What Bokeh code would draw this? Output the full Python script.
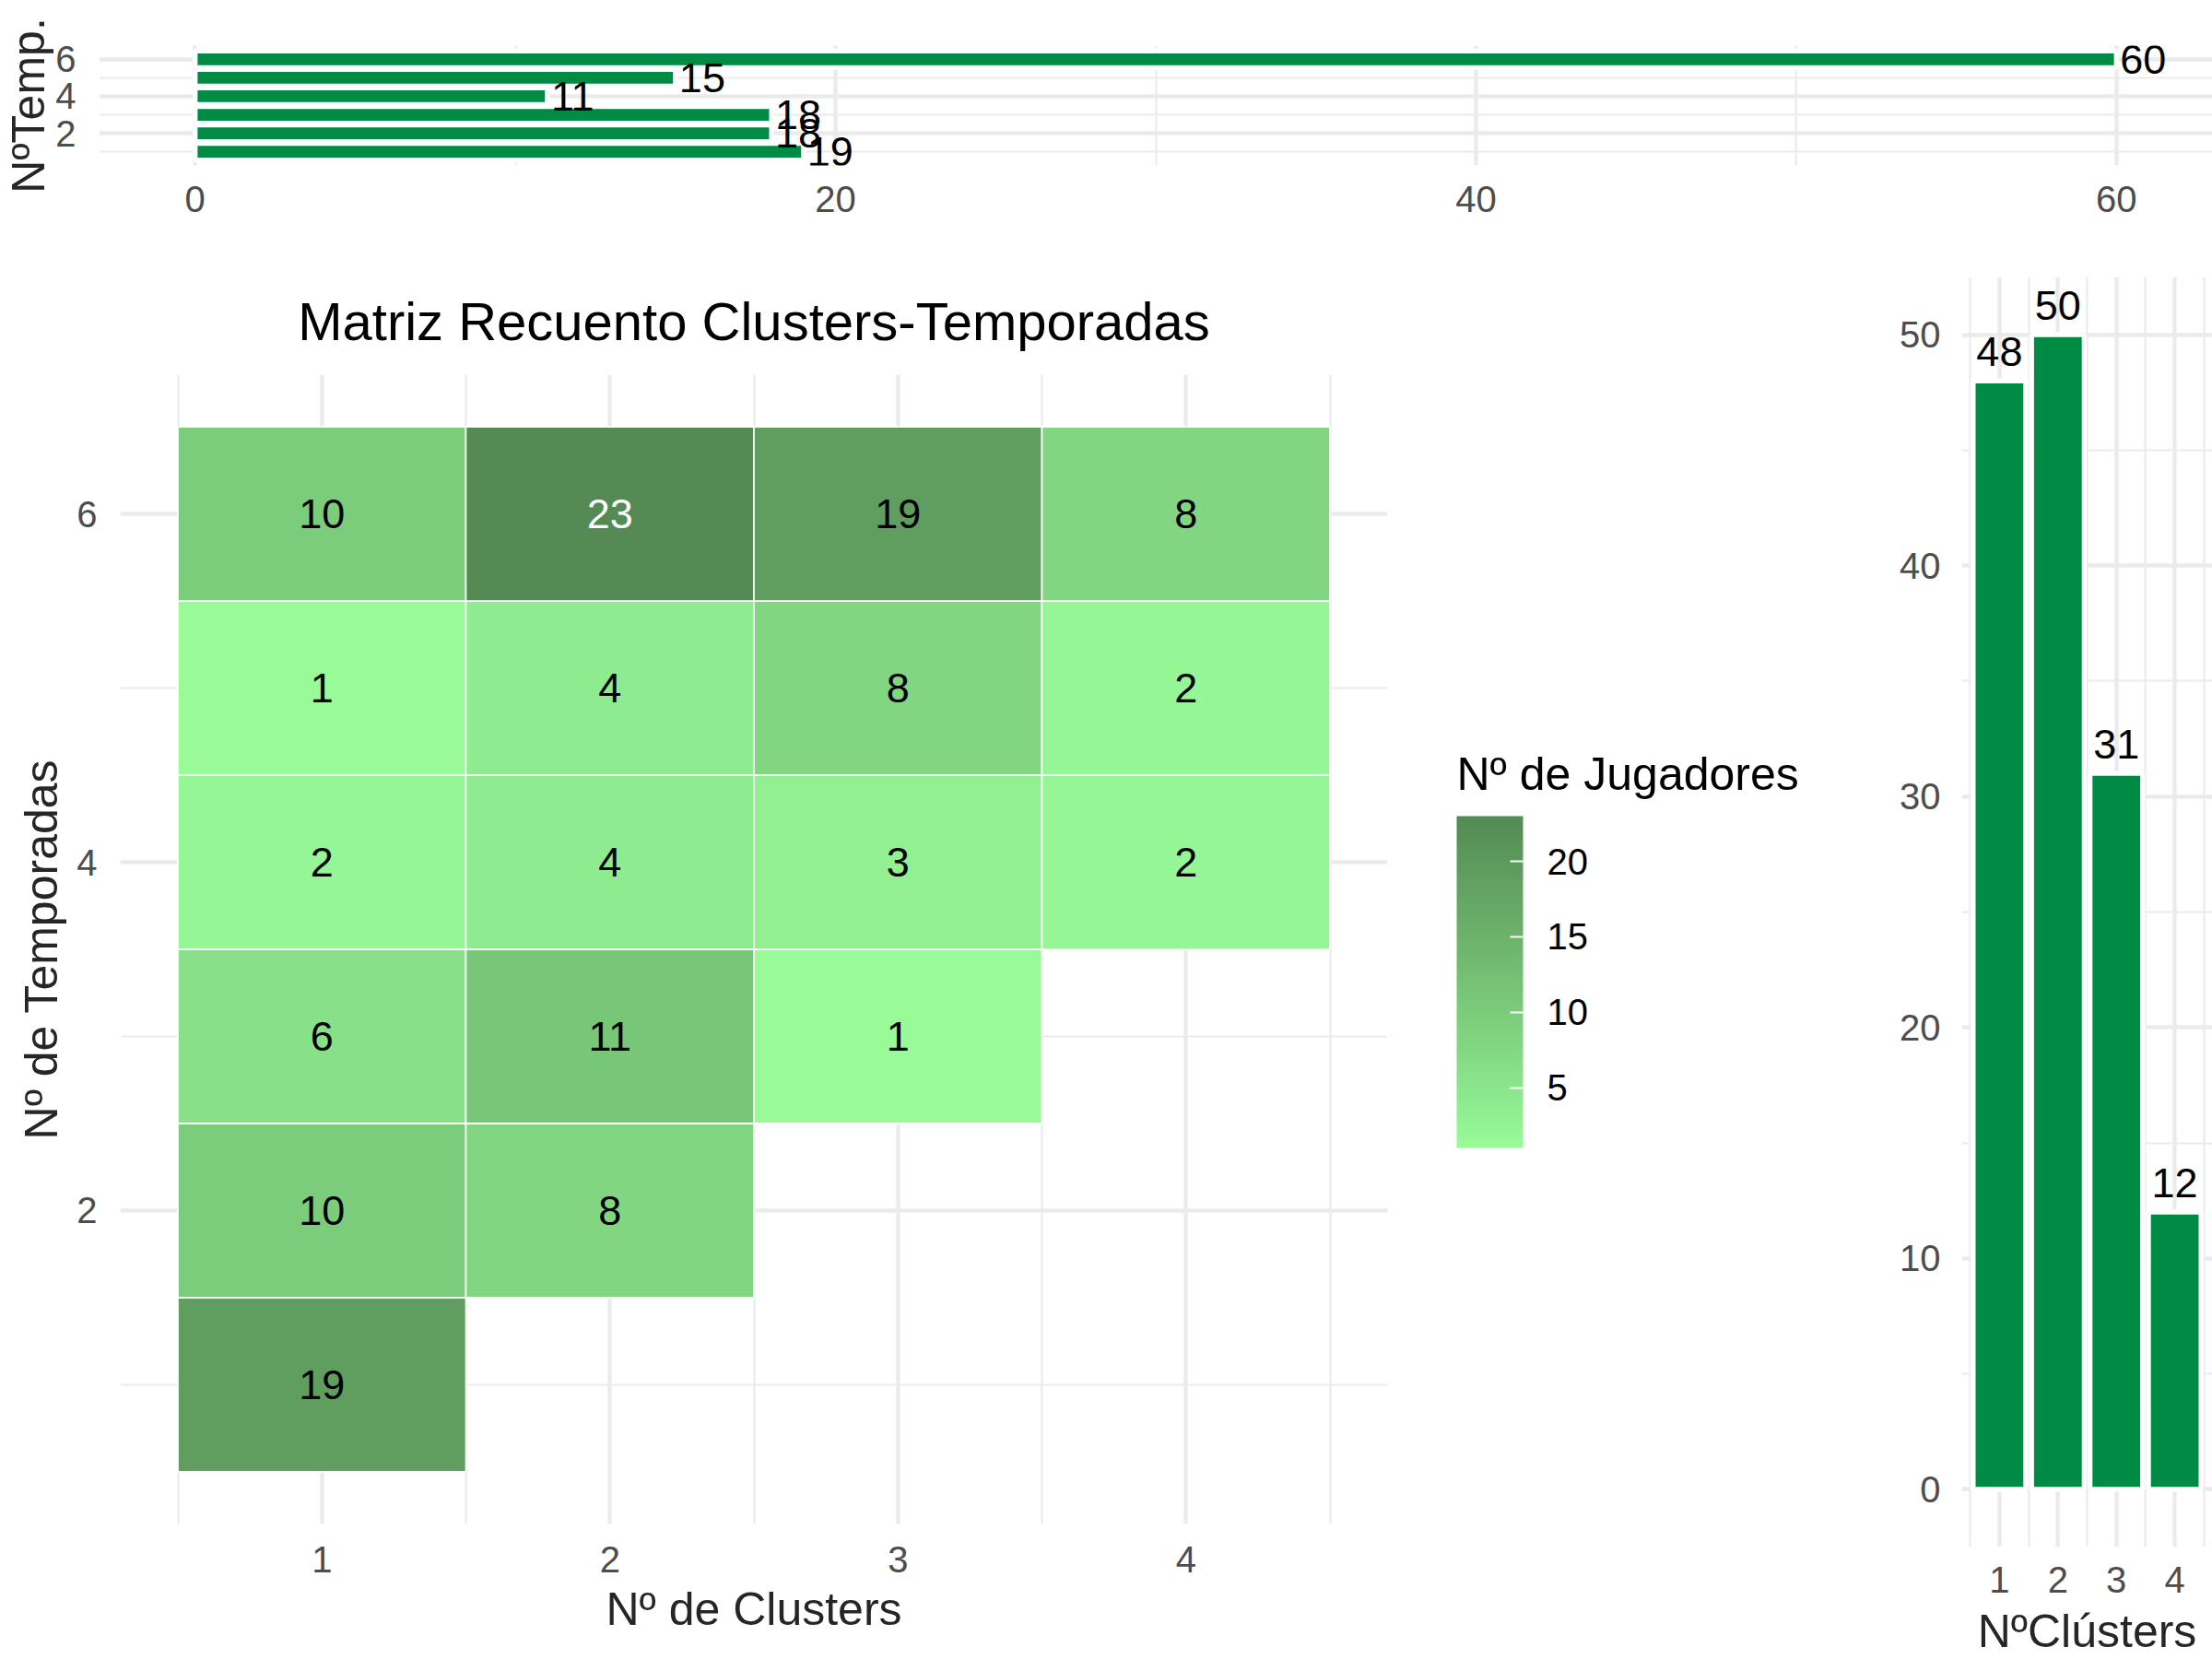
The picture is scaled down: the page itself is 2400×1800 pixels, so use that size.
from bokeh.plotting import figure
from bokeh.models import ColumnDataSource, FixedTicker, LinearColorMapper, ColorBar, Range1d
from bokeh.layouts import column, row
from bokeh.embed import file_html
from bokeh.resources import INLINE
from bokeh.core.properties import value
from bokeh.transform import transform

FONT = "Liberation Sans"

# ---------------- data ----------------
clusters = [1, 2, 3, 4]
temporadas = [1, 2, 3, 4, 5, 6]
recuento_temp1 = [19, None, None, None]
recuento_temp2 = [10, 8, None, None]
recuento_temp3 = [6, 11, 1, None]
recuento_temp4 = [2, 4, 3, 2]
recuento_temp5 = [1, 4, 8, 2]
recuento_temp6 = [10, 23, 19, 8]
total_por_temporada = [19, 18, 18, 11, 15, 60]
total_por_cluster = [48, 50, 31, 12]

ticks_temporadas = [2, 4, 6]
ticks_top_x = [0, 20, 40, 60]
ticks_clusters = [1, 2, 3, 4]
ticks_right_y = [0, 10, 20, 30, 40, 50]
ticks_leyenda = [5, 10, 15, 20]

color_bajo = "#98FB98"   # palegreen
color_alto = "#548B54"   # palegreen4
color_barra = "#008B45"
GRID = "#EBEBEB"

TICK_SIZE = "40px"
AXIS_TITLE_SIZE = "50px"
VALUE_SIZE = "45px"


# ---------------- Lab gradient (as ggplot) ----------------
def _to_lab(hexc):
    r, g, b = [int(hexc[i:i + 2], 16) / 255 for i in (1, 3, 5)]
    def lin(c):
        return c / 12.92 if c <= 0.04045 else ((c + 0.055) / 1.055) ** 2.4
    r, g, b = lin(r), lin(g), lin(b)
    X = 0.4124564 * r + 0.3575761 * g + 0.1804375 * b
    Y = 0.2126729 * r + 0.7151522 * g + 0.0721750 * b
    Z = 0.0193339 * r + 0.1191920 * g + 0.9503041 * b
    def f(t):
        return t ** (1 / 3) if t > 216 / 24389 else (24389 / 27 * t + 16) / 116
    fx, fy, fz = f(X / 0.95047), f(Y), f(Z / 1.08883)
    return 116 * fy - 16, 500 * (fx - fy), 200 * (fy - fz)


def _to_hex(L, a, b):
    fy = (L + 16) / 116
    fx = fy + a / 500
    fz = fy - b / 200
    def finv(t):
        return t ** 3 if t ** 3 > 216 / 24389 else (116 * t - 16) / (24389 / 27)
    X, Y, Z = finv(fx) * 0.95047, finv(fy), finv(fz) * 1.08883
    r = 3.2404542 * X - 1.5371385 * Y - 0.4985314 * Z
    g = -0.9692660 * X + 1.8760108 * Y + 0.0415560 * Z
    bb = 0.0556434 * X - 0.2040259 * Y + 1.0572252 * Z
    def gam(c):
        c = max(0.0, min(1.0, c))
        return 12.92 * c if c <= 0.0031308 else 1.055 * c ** (1 / 2.4) - 0.055
    return "#%02x%02x%02x" % tuple(int(round(gam(c) * 255)) for c in (r, g, bb))


lab0, lab1 = _to_lab(color_bajo), _to_lab(color_alto)
palette = [_to_hex(*[lab0[k] + (lab1[k] - lab0[k]) * i / 255 for k in range(3)]) for i in range(256)]

# ---------------- layout constants (page pixels) ----------------
W, H = 2400, 1800
TOP_H = 260
HEAT_W = 1560
LEG_W = 470
RIGHT_W = W - HEAT_W - LEG_W
BOT_H = H - TOP_H


def base_fig(title=None, **kw):
    p = figure(output_backend="svg", toolbar_location=None, title=title, **kw)
    p.background_fill_color = "white"
    p.border_fill_color = "white"
    p.outline_line_color = None
    try:
        p.frame_align = False
    except Exception:
        pass
    return p


def style_axis(ax, ticks, standoff, label_standoff=5):
    ax.ticker = FixedTicker(ticks=ticks)
    ax.axis_line_color = None
    ax.major_tick_line_color = None
    ax.minor_tick_line_color = None
    ax.major_tick_in = 0
    ax.major_tick_out = 0
    ax.minor_tick_in = 0
    ax.minor_tick_out = 0
    ax.major_label_text_font = FONT
    ax.major_label_text_font_size = TICK_SIZE
    ax.major_label_text_color = "#4D4D4D"
    ax.major_label_standoff = standoff
    ax.axis_label_text_font = FONT
    ax.axis_label_text_font_size = AXIS_TITLE_SIZE
    ax.axis_label_text_font_style = "normal"
    ax.axis_label_text_color = "#262626"
    ax.axis_label_standoff = label_standoff


def style_grid(g, major, minor):
    g.ticker = FixedTicker(ticks=major, minor_ticks=minor)
    g.grid_line_color = GRID
    g.grid_line_width = 4.4
    g.minor_grid_line_color = GRID
    g.minor_grid_line_width = 2.2


def style_title(t, size, standoff, align):
    t.align = align
    t.text_font = FONT
    t.text_font_size = size
    t.text_font_style = "normal"
    t.text_color = "black"
    t.standoff = standoff


# ---------------- top bar chart ----------------
top = base_fig(width=W, height=TOP_H, x_range=Range1d(-3, 63), y_range=Range1d(0.255, 6.745),
               min_border_left=105, min_border_right=0, min_border_top=49, min_border_bottom=TOP_H - 179)
top.hbar(y=temporadas, left=0, right=total_por_temporada, height=0.9,
         fill_color=color_barra, line_color="white", line_width=5.3)
top.text(x=total_por_temporada, y=temporadas, text=[str(v) for v in total_por_temporada],
         x_offset=4, y_offset=0, text_align="left", text_baseline="alphabetic",
         text_font=value(FONT), text_font_size=value(VALUE_SIZE), text_color="black")
style_axis(top.xaxis[0], ticks_top_x, 22)
style_axis(top.yaxis[0], ticks_temporadas, 25, -2)
top.yaxis[0].axis_label = "NºTemp."
style_grid(top.xgrid[0], ticks_top_x, [10, 30, 50])
style_grid(top.ygrid[0], ticks_temporadas, [1, 3, 5])

# ---------------- heatmap ----------------
hx, hy, hn = [], [], []
for t, fila in zip(temporadas, [recuento_temp1, recuento_temp2, recuento_temp3,
                                recuento_temp4, recuento_temp5, recuento_temp6]):
    for c, n in zip(clusters, fila):
        if n is not None:
            hx.append(c)
            hy.append(t)
            hn.append(n)
src = ColumnDataSource(dict(x=hx, y=hy, n=hn, lab=[str(v) for v in hn],
                            tc=["white" if v > 20 else "black" for v in hn]))
mapper = LinearColorMapper(palette=palette, low=min(hn), high=max(hn))

HF_L, HF_R, HF_T, HF_B = 130, 1505, 406 - TOP_H, 1653 - TOP_H   # frame box inside heat figure
heat = base_fig(title="Matriz Recuento Clusters-Temporadas", width=HEAT_W, height=BOT_H,
                x_range=Range1d(0.3, 4.7), y_range=Range1d(0.2, 6.8),
                min_border_left=HF_L, min_border_right=HEAT_W - HF_R, min_border_top=HF_T,
                min_border_bottom=BOT_H - HF_B)
style_title(heat.title, "58px", 52, "center")
heat.rect(x="x", y="y", width=1, height=1, source=src,
          fill_color=transform("n", mapper), line_color="white", line_width=1.7)
heat.text(x="x", y="y", text="lab", source=src, text_color="tc",
          text_align="center", text_baseline="alphabetic", y_offset=0,
          text_font=value(FONT), text_font_size=value(VALUE_SIZE))
style_axis(heat.xaxis[0], ticks_clusters, 24, 9)
heat.xaxis[0].axis_label = "Nº de Clusters"
style_axis(heat.yaxis[0], ticks_temporadas, 25, 7)
heat.yaxis[0].axis_label = "Nº de Temporadas"
style_grid(heat.xgrid[0], ticks_clusters, [0.5, 1.5, 2.5, 3.5, 4.5])
style_grid(heat.ygrid[0], ticks_temporadas, [1, 3, 5])

# ---------------- legend (colour bar) ----------------
LF_L, LF_T, LF_B = 1580 - HEAT_W, 885 - TOP_H, 1245 - TOP_H
leg = base_fig(title="Nº de Jugadores", width=LEG_W, height=BOT_H,
               x_range=Range1d(0, 1), y_range=Range1d(0, 1),
               x_axis_type=None, y_axis_type=None,
               min_border_left=LF_L, min_border_right=0, min_border_top=LF_T,
               min_border_bottom=BOT_H - LF_B)
leg.xgrid.visible = False
leg.ygrid.visible = False
style_title(leg.title, AXIS_TITLE_SIZE, 35, "left")
cb = ColorBar(color_mapper=mapper, ticker=FixedTicker(ticks=ticks_leyenda),
              orientation="vertical", location="top_left", width=72, height=360,
              major_label_text_font=FONT, major_label_text_font_size=TICK_SIZE,
              major_label_text_color="black", label_standoff=26,
              major_tick_line_color="white", major_tick_line_width=2,
              major_tick_in=14, major_tick_out=0, minor_tick_line_color=None,
              bar_line_color=None, border_line_color=None, background_fill_color=None,
              padding=0, margin=0)
leg.add_layout(cb)

# ---------------- right bar chart ----------------
RF_L, RF_T, RF_B = 2128 - HEAT_W - LEG_W, 300 - TOP_H, 1680 - TOP_H
right = base_fig(width=RIGHT_W, height=BOT_H, x_range=Range1d(0.355, 4.645), y_range=Range1d(-2.5, 52.5),
                 min_border_left=RF_L, min_border_right=0, min_border_top=RF_T,
                 min_border_bottom=BOT_H - RF_B)
right.vbar(x=clusters, bottom=0, top=total_por_cluster, width=0.9,
           fill_color=color_barra, line_color="white", line_width=5.3)
right.text(x=clusters, y=total_por_cluster, text=[str(v) for v in total_por_cluster],
           y_offset=-32, text_align="center", text_baseline="alphabetic",
           text_font=value(FONT), text_font_size=value(VALUE_SIZE), text_color="black")
style_axis(right.xaxis[0], ticks_clusters, 21, 11)
right.xaxis[0].axis_label = "NºClústers"
style_axis(right.yaxis[0], ticks_right_y, 23)
style_grid(right.xgrid[0], ticks_clusters, [0.5, 1.5, 2.5, 3.5, 4.5])
style_grid(right.ygrid[0], ticks_right_y, [5, 15, 25, 35, 45])

layout = column(top, row(heat, leg, right, spacing=0), spacing=0)
open("out.html", "w").write(file_html(layout, INLINE))
